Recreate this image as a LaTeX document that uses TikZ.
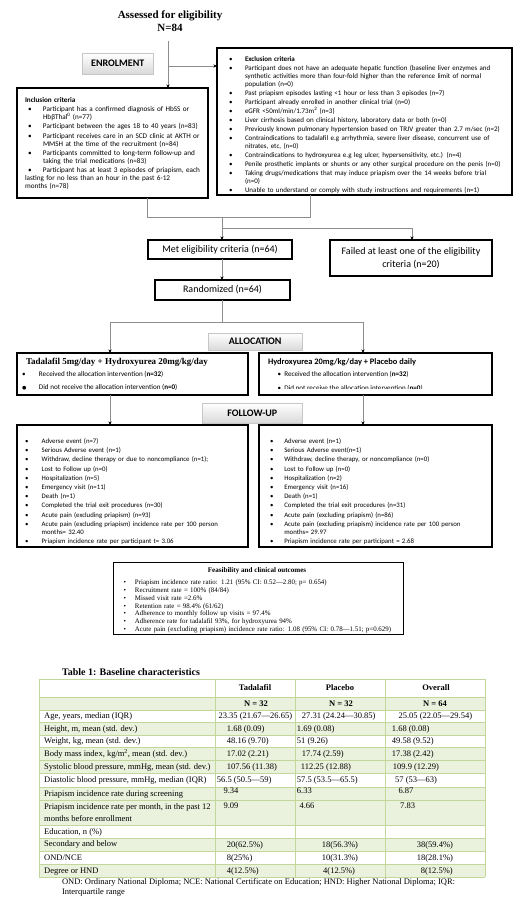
\documentclass[tikz,border=0pt]{standalone}
\usepackage{fontspec}
\setmainfont{Carlito}
\newfontfamily\tms{Liberation Serif}
\newfontfamily\djv{DejaVu Sans}
\usetikzlibrary{arrows.meta,shadows}
\definecolor{tgreen}{HTML}{EAF1DD}
\definecolor{tline}{HTML}{C3D69B}
\definecolor{conncol}{HTML}{8C8C8C}
\newcommand\itm[1]{\par\noindent\hangindent=\IND\hangafter=1\hbox to \IND{\hskip\BUL\textbullet\hfil}#1}
\tikzset{
  fbox/.style={draw=black, line width=1.3pt, anchor=north west, inner sep=0pt, outer sep=0pt},
  gbox/.style={draw=gray!45, line width=0.5pt, top color=white, bottom color=gray!30,
    drop shadow={opacity=0.35, shadow xshift=1.2pt, shadow yshift=-1.2pt},
    font=\bfseries\fontsize{10}{12}\selectfont, anchor=north west, inner sep=0pt},
  txt/.style={anchor=north west, inner sep=0pt, outer sep=0pt},
  lbl/.style={anchor=base west, inner sep=0pt, outer sep=0pt},
  conn/.style={draw=conncol, line width=0.7pt},
  arr/.style={-{Stealth[length=3.6pt,width=3.2pt,color=black]}},
  tc/.style={anchor=base west, inner sep=0pt, font=\tms\fontsize{8.5}{12}\selectfont},
  th/.style={anchor=base, inner sep=0pt, font=\tms\bfseries\fontsize{8.5}{10}\selectfont}
}
\begin{document}
\begin{tikzpicture}[x=1pt,y=-1pt]
\useasboundingbox (0,0) rectangle (520,901);
\fill[white] (0,0) rectangle (520,901);

% ---------- title ----------
\node[anchor=base, inner sep=0pt, font=\tms\bfseries\fontsize{11}{13}\selectfont] (ttl) at (170,18.5) {Assessed for eligibility};
\node[anchor=base, inner sep=0pt, font=\tms\bfseries\fontsize{11}{13}\selectfont] (n84) at (170,31.5) {N=84};

\node[gbox, minimum width=71pt, minimum height=21pt] (enrol) at (82,53) {ENROLMENT};

% ---------- exclusion ----------
\node[fbox, minimum width=295pt, minimum height=147pt] (excl) at (217,48) {};
\node[txt, text width=277pt, font=\fontsize{7.0}{7.9}\selectfont] (excltxt) at (229,52.8) {\def\IND{16pt}\def\BUL{0.2pt}\setlength\parskip{1.1pt}%
\itm{\textbf{Exclusion criteria}}
\itm{Participant does not have an adequate hepatic function (baseline liver enzymes and\linebreak synthetic activities more than four-fold higher than the reference limit of normal\linebreak population (n=0)}
\itm{Past priapism episodes lasting <1 hour or less than 3 episodes (n=7)}
\itm{Participant already enrolled in another clinical trial (n=0)}
\itm{eGFR <50ml/min/1.73m\textsuperscript{2} (n=3)}
\itm{Liver cirrhosis based on clinical history, laboratory data or both (n=0)}
\itm{Previously known pulmonary hypertension based on TRJV greater than 2.7 m/sec (n=2)}
\itm{Contraindications to tadalafil e.g arrhythmia, severe liver disease, concurrent use of\linebreak nitrates, etc, (n=0)}
\itm{Contraindications to hydroxyurea e.g leg ulcer, hypersensitivity, etc.) (n=4)}
\itm{Penile prosthetic implants or shunts or any other surgical procedure on the penis (n=0)}
\itm{Taking drugs/medications that may induce priapism over the 14 weeks before trial\linebreak (n=0)}
\itm{Unable to understand or comply with study instructions and requirements (n=1)}};

% ---------- inclusion ----------
\node[fbox, minimum width=191pt, minimum height=110pt] (incl) at (17,88) {};
\node[txt, text width=175pt, font=\fontsize{7.2}{7.9}\selectfont] (incltxt) at (25,97.1) {\def\IND{18pt}\def\BUL{3.2pt}\setlength\parskip{1.5pt}%
\noindent\textbf{Inclusion criteria}
\itm{Participant has a confirmed diagnosis of HbSS or\linebreak HbβThal\textsuperscript{0} (n=77)}
\itm{Participant between the ages 18 to 40 years (n=83)}
\itm{Participant receives care in an SCD clinic at AKTH or\linebreak MMSH at the time of the recruitment (n=84)}
\itm{Participants committed to long-term follow-up and\linebreak taking the trial medications (n=83)}
\itm{Participant has at least 3 episodes of priapism, each\linebreak lasting for no less than an hour in the past 6-12\linebreak months (n=78)}};

% ---------- eligibility ----------
\node[fbox, minimum width=144pt, minimum height=19pt, font=\fontsize{10}{12}\selectfont] (met) at (148,240) {Met eligibility criteria (n=64)};
\node[fbox, minimum width=162pt, minimum height=36pt, align=center, font=\fontsize{10}{12.5}\selectfont] (failed) at (330,240) {Failed at least one of the eligibility\\criteria (n=20)};
\node[fbox, minimum width=135pt, minimum height=20pt, font=\fontsize{10}{12}\selectfont] (rand) at (155,280) {Randomized (n=64)};

% ---------- allocation ----------
\node[gbox, minimum width=94pt, minimum height=17pt] (alloc) at (208,333) {ALLOCATION};
\node[fbox, minimum width=231pt, minimum height=42pt] (allocL) at (17,353) {};
\node[fbox, minimum width=233pt, minimum height=42pt] (allocR) at (259,353) {};
\node[lbl, font=\tms\bfseries\fontsize{9}{11}\selectfont] (alLt) at (26,364.7) {Tadalafil 5mg/day + Hydroxyurea 20mg/kg/day};
\node[lbl, font=\fontsize{7.1}{8}\selectfont] (alL1) at (22.2,376.3) {\makebox[16.8pt][l]{\textbullet}Received the allocation intervention (\textbf{n=32})};
\node[lbl, font=\fontsize{7.1}{8}\selectfont] (alL2) at (22.2,389.3) {\makebox[16.8pt][l]{{\djv\fontsize{5}{6}\selectfont ●}}Did not receive the allocation intervention (\textbf{n=0})};
\node[lbl, font=\bfseries\fontsize{8.4}{10}\selectfont] (alRt) at (268,364.7) {Hydroxyurea 20mg/kg/day + Placebo daily};
\node[lbl, font=\fontsize{7.1}{8}\selectfont] (alR1) at (277.5,376.3) {\makebox[6.8pt][l]{\textbullet}Received the allocation intervention (\textbf{n=32})};
\begin{scope}
\clip (259,353) rectangle (492,388.2);
\node[lbl, font=\fontsize{7.1}{8}\selectfont] (alR2) at (277.5,390.6) {\makebox[6.8pt][l]{\textbullet}Did not receive the allocation intervention (\textbf{n=0})};
\end{scope}

% ---------- follow-up ----------
\node[gbox, minimum width=100pt, minimum height=20pt] (follow) at (202,403) {FOLLOW-UP};
\node[fbox, minimum width=231pt, minimum height=122pt] (fuL) at (17,425) {};
\node[fbox, minimum width=233pt, minimum height=122pt] (fuR) at (259,425) {};
\node[txt, text width=216.7pt, font=\fontsize{6.8}{7.8}\selectfont] (fuLtxt) at (24,434.3) {\def\IND{17.7pt}\def\BUL{1.0pt}\setlength\parskip{1.4pt}%
\itm{Adverse event (n=7)}
\itm{Serious Adverse event (n=1)}
\itm{Withdraw, decline therapy or due to noncompliance (n=1);}
\itm{Lost to Follow up (n=0)}
\itm{Hospitalization (n=5)}
\itm{Emergency visit (n=11)}
\itm{Death (n=1)}
\itm{Completed the trial exit procedures (n=30)}
\itm{Acute pain (excluding priapism) (n=93)}
\itm{Acute pain (excluding priapism) incidence rate per 100 person\linebreak months= 32.40}
\itm{Priapism incidence rate per participant t= 3.06}};
\node[txt, text width=214pt, font=\fontsize{6.8}{7.8}\selectfont] (fuRtxt) at (269,434.3) {\def\IND{15.3pt}\def\BUL{1.0pt}\setlength\parskip{1.4pt}%
\itm{Adverse event (n=1)}
\itm{Serious Adverse event(n=1)}
\itm{Withdraw, decline therapy, or noncompliance (n=0)}
\itm{Lost to Follow up (n=0)}
\itm{Hospitalization (n=2)}
\itm{Emergency visit (n=16)}
\itm{Death (n=1)}
\itm{Completed the trial exit procedures (n=31)}
\itm{Acute pain (excluding priapism) (n=86)}
\itm{Acute pain (excluding priapism) incidence rate per 100 person\linebreak months= 29.97}
\itm{Priapism incidence rate per participant = 2.68}};

% ---------- feasibility ----------
\node[fbox, line width=0.8pt, minimum width=290pt, minimum height=72pt] (feas) at (113,562) {};
\node[anchor=base, inner sep=0pt, font=\tms\bfseries\fontsize{7.1}{8}\selectfont] (feast) at (257,572.2) {Feasibility and clinical outcomes};
\node[txt, text width=279pt, font=\tms\fontsize{6.9}{7.9}\selectfont] (feastxt) at (123,576.4) {\def\IND{12pt}\def\BUL{0.7pt}\setlength\parskip{0pt}%
\itm{Priapism incidence rate ratio: 1.21 (95\% CI: 0.52—2.80; p= 0.654)}
\itm{Recruitment rate = 100\% (84/84)}
\itm{Missed visit rate =2.6\%}
\itm{Retention rate = 98.4\% (61/62)}
\itm{Adherence to monthly follow up visits = 97.4\%}
\itm{Adherence rate for tadalafil 93\%, for hydroxyurea 94\%}
\itm{Acute pain (excluding priapism) incidence rate ratio: 1.08 (95\% CI: 0.78—1.51; p=0.629)}};

% ---------- connectors ----------
\coordinate (t0) at (168,41);
\coordinate (ej) at (168,66);
\coordinate (mL) at (147,217);
\coordinate (mR) at (310,217);
\coordinate (mC) at (222,217);
\coordinate (sC) at (222,228);
\coordinate (sR) at (412,228);
\coordinate (rB) at (222,322);
\coordinate (aL) at (110,322);
\coordinate (aR) at (363,322);
\draw[conn,arr] (t0) -- (t0 |- incl.north);
\draw[conn,arr] (ej) -- (ej -| excl.west);
\draw[conn] (mL |- incl.south) -- (mL) -- (mR) -- (mR |- excl.south);
\draw[conn,arr] (mC) -- (mC |- met.north);
\draw[conn,arr] (sC) -- (sR) -- (sR |- failed.north);
\draw[conn,arr] (mC |- met.south) -- (mC |- rand.north);
\draw[conn] (rB |- rand.south) -- (rB);
\draw[conn] (aL) -- (aR);
\draw[conn,arr] (aL) -- (aL |- allocL.north);
\draw[conn,arr] (aR) -- (aR |- allocR.north);
\draw[conn,arr] (aL |- allocL.south) -- (aL |- fuL.north);
\draw[conn,arr] (aR |- allocR.south) -- (aR |- fuR.north);

% ---------- table ----------
\node[lbl, font=\tms\bfseries\fontsize{10}{12}\selectfont] (tabttl) at (62,675.5) {Table 1: Baseline characteristics};
\foreach \a/\b in {697/710, 722/735, 747.5/760, 760/773, 787/800, 800/825, 838/851, 864/877}
  \fill[tgreen] (39,\a) rectangle (485,\b);
\foreach \y in {679,697,710,722,735,747.5,760,773,787,800,825,838,851,864,877}
  \draw[tline, line width=0.7pt] (39,\y) -- (485,\y);
\foreach \x in {39,215,295,385,485}
  \draw[tline, line width=0.7pt] (\x,679) -- (\x,877);
\node[th] (h1) at (255,690.6) {Tadalafil};
\node[th] (h2) at (340,690.6) {Placebo};
\node[th] (h3) at (436,690.6) {Overall};
\node[th] (h4) at (256,706) {N = 32};
\node[th] (h5) at (341,706) {N = 32};
\node[th] (h6) at (435,706) {N = 64};
\foreach \x/\y/\t [count=\i] in {
  44/718.6/{Age, years, median (IQR)}, 218.3/718.6/{23.35 (21.67—26.65)}, 301.7/718.6/{27.31 (24.24—30.85)}, 398.3/718.6/{25.05 (22.05—29.54)},
  44/731/{Height, m, mean (std. dev.)}, 226.7/731/{1.68 (0.09)}, 296.7/731/{1.69 (0.08)}, 391.7/731/{1.68 (0.08)},
  44/743.6/{Weight, kg, mean (std. dev.)}, 226.7/743.6/{48.16 (9.70)}, 296.7/743.6/{51 (9.26)}, 391.7/743.6/{49.58 (9.52)},
  44/756.3/{Body mass index, kg/m\textsuperscript{2}, mean (std. dev.)}, 226.7/756.3/{17.02 (2.21)}, 301.7/756.3/{17.74 (2.59)}, 391.7/756.3/{17.38 (2.42)},
  44/769/{Systolic blood pressure, mmHg, mean (std. dev.)}, 226.7/769/{107.56 (11.38)}, 300.7/769/{112.25 (12.88)}, 392.7/769/{109.9 (12.29)},
  44/782.6/{Diastolic blood pressure, mmHg, median (IQR)}, 216.7/782.6/{56.5 (50.5—59)}, 296.7/782.6/{57.5 (53.5—65.5)}, 395/782.6/{57 (53—63)},
  44/796/{Priapism incidence rate during screening}, 223.3/793/{9.34}, 296.7/793/{6.33}, 398.3/793/{6.87},
  44/809/{Priapism incidence rate per month, in the past 12}, 44/821/{months before enrollment}, 223.3/808/{9.09}, 299.3/808/{4.66}, 400/808/{7.83},
  44/834/{Education, n (\%)},
  44/846/{Secondary and below}, 226.7/847.6/{20(62.5\%)}, 321.7/847.6/{18(56.3\%)}, 416.7/847.6/{38(59.4\%)},
  44/860/{OND/NCE}, 226.7/860/{8(25\%)}, 321.7/860/{10(31.3\%)}, 416.7/860/{18(28.1\%)},
  44/873/{Degree or HND}, 226.7/873/{4(12.5\%)}, 323/873/{4(12.5\%)}, 420.7/873/{8(12.5\%)}}
  \node[tc] (tc\i) at (\x,\y) {\t};
\node[lbl, font=\tms\fontsize{8.5}{10}\selectfont] (foot1) at (62,884.5) {OND: Ordinary National Diploma; NCE: National Certificate on Education; HND: Higher National Diploma; IQR:};
\node[lbl, font=\tms\fontsize{8.5}{10}\selectfont] (foot2) at (62,894.5) {Interquartile range};
\end{tikzpicture}
\end{document}
